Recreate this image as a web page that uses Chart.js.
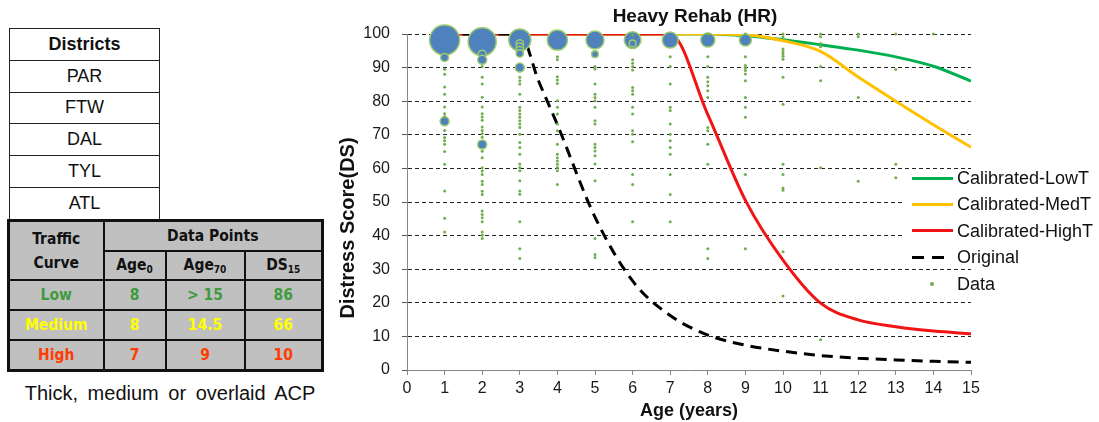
<!DOCTYPE html>
<html lang="en">
<head>
  <meta charset="UTF-8">
  <title>Heavy Rehab (HR)</title>
  <style>
    body {
      margin: 0;
      width: 1099px;
      height: 422px;
      position: relative;
      overflow: hidden;
      background: #fff;
      font-family: "Liberation Sans", Arial, sans-serif;
      color: #111;
    }
    #districts {
      position: absolute;
      left: 9px;
      top: 28px;
      width: 151px;
      border-collapse: collapse;
      font-size: 18px;
    }
    #districts td {
      border: 1px solid #222;
      padding: 0;
      text-align: center;
    }
    #districts tr { height: 31.8px; }
    #traffic {
      position: absolute;
      left: 7px;
      top: 219px;
      width: 317px;
      border-collapse: collapse;
      table-layout: fixed;
      background: #c0c0c0;
      border: 3px solid #111;
      font-family: "DejaVu Sans Condensed", "DejaVu Sans", sans-serif;
      font-stretch: condensed;
      font-weight: bold;
      font-size: 15.5px;
    }
    #traffic th, #traffic td {
      border: 2px solid #111;
      padding: 0;
      text-align: center;
    }
    #traffic sub {
      font-size: 10px;
      line-height: 0;
      vertical-align: -3px;
    }
    #caption {
      position: absolute;
      left: 10px;
      width: 320px;
      top: 382px;
      text-align: center;
      font-size: 20px;
      word-spacing: 4px;
      white-space: nowrap;
    }
    .chart-box {
      position: absolute;
      left: 330px;
      top: 0;
      width: 718px;
      height: 422px;
    }
    .legend-row {
      position: absolute;
      left: 905px;
      width: 194px;
      height: 18px;
      background: #fff;
      font-size: 18px;
      line-height: 18px;
      white-space: nowrap;
    }
    .legend-row .swatch {
      position: absolute;
      left: 7px;
      top: 7.5px;
      width: 41px;
      height: 3px;
    }
    .legend-row .label {
      position: absolute;
      left: 52px;
      top: 0;
    }
  </style>
  <script src="https://cdn.jsdelivr.net/npm/chart.js"></script>
</head>
<body>
  <table id="districts"></table>
  <table id="traffic">
    <colgroup>
      <col style="width:95px"><col style="width:62px"><col style="width:79px"><col style="width:78px">
    </colgroup>
    <tr style="height:30px">
      <th rowspan="2" style="line-height:24px">Traffic<br>Curve</th>
      <th colspan="3">Data Points</th>
    </tr>
    <tr style="height:29.5px">
      <th>Age<sub>0</sub></th><th>Age<sub>70</sub></th><th>DS<sub>15</sub></th>
    </tr>
  </table>
  <div id="caption">Thick, medium or overlaid ACP</div>

  <div class="chart-box">
    <canvas id="chart" width="718" height="422"></canvas>
  </div>
  <div id="legend"></div>

  <script>
    // ---- table contents ----
    const districts = ['PAR', 'FTW', 'DAL', 'TYL', 'ATL'];
    const trafficCurves = ['Low', 'Medium', 'High'];
    const age0Values = ['8', '8', '7'];
    const age70Values = ['> 15', '14.5', '9'];
    const ds15Values = ['86', '66', '10'];
    const trafficColors = ['#3f9b3f', '#ffff00', '#ff3c00'];

    // ---- calibrated / original curves ----
    const curveAges = [1, 2, 3, 4, 5, 6, 7, 8, 9, 10, 11, 12, 13, 14, 15];
    const lowT = [100, 100, 100, 100, 100, 100, 100, 100, 99.5, 98.3, 96.8, 95.2, 93.2, 90.4, 86];
    const medT = [100, 100, 100, 100, 100, 100, 100, 100, 99.8, 98, 94.8, 87.2, 80, 73, 66.3];
    const highT = [100, 100, 100, 100, 100, 100, 100, 76, 50.5, 32.7, 19.9, 14.9, 12.9, 11.6, 10.8];
    const originalAges = [1, 2, 3, 3.5, 4, 5, 6, 7, 8, 9, 10, 11, 12, 13, 14, 15];
    const original = [100, 100, 100, 86, 73, 45.5, 26.5, 16.2, 10.4, 7.4, 5.6, 4.3, 3.5, 3, 2.6, 2.3];

    // ---- observed data: large bubbles (relative count) ----
    const bubbleAges   = [1, 2, 3, 4, 5, 6, 7, 8, 9, 1, 1, 2, 2, 2, 3, 3, 3, 3, 3, 5, 6];
    const bubbleScores = [98.2, 97.7, 98.2, 98.2, 98.2, 98.2, 98.2, 98.2, 98.2, 93, 74, 94, 92.3, 67.1, 97.2, 96.2, 95.2, 94.2, 90, 94, 97.2];
    const bubbleSizes  = [100, 87, 54, 45, 36, 31, 28, 22, 16, 7, 9, 7, 9, 9, 6, 6, 6, 6, 9, 5, 5];

    // ---- observed data: single points per age ----
    const age1Dots = [89.5, 88, 84.2, 82.1, 78.3, 76.3, 75.4, 71.3, 69.2, 68.2, 67.2, 65, 61.2, 53.3, 45.2, 41.1];
    const age2Dots = [90.3, 87.1, 85.1, 81.2, 78.3, 76.3, 75.3, 74.3, 72.3, 71.3, 70.3, 69.3, 65.1, 63.2, 60.2, 59.2, 58.2, 56.2, 55.2, 53.2, 52.2, 47.3, 46.3, 45.3, 44.1, 41.1, 40.1, 39.1];
    const age3Dots = [87.1, 86.1, 85.1, 82.1, 78.2, 77.2, 76.2, 75.2, 74.2, 73.2, 72.2, 70.2, 67.7, 66.2, 64.2, 61.3, 60.3, 59.3, 56.3, 53.3, 52.3, 44.1, 36.1, 33.2];
    const age4Dots = [93.2, 92.3, 87.3, 86.3, 85.3, 80.1, 78.2, 76.2, 73.2, 71.2, 67.2, 64.2, 63.2, 62.2, 61.2, 60.3, 59.3, 55.2];
    const age5Dots = [90.3, 89.6, 85.1, 82.1, 81.1, 80.1, 78.2, 74.2, 73.2, 67.2, 66.2, 65.2, 63.8, 61.3, 56.3, 39.1, 34.4, 33.5];
    const age6Dots = [99.7, 92.3, 91.3, 90.3, 89.3, 84.1, 83.1, 82.1, 78.2, 76.2, 71.2, 70.2, 67.9, 58.2, 55.2, 44.1];
    const age7Dots = [93.2, 90.3, 85.1, 78.2, 77.2, 73.2, 70.2, 68.2, 66.2, 64.2, 58.2, 52.2, 44.1];
    const age8Dots = [99.9, 93.2, 90.3, 87.1, 85.8, 84.6, 83.1, 81.1, 72.2, 71.2, 67.2, 61.2, 36.1, 33.2];
    const age9Dots = [100, 93.2, 90.6, 89.9, 89.1, 88.1, 86.1, 81.1, 78.2, 75.2, 58.2, 36.1];
    const age10Dots = [100, 99.2, 95.5, 94.8, 94.1, 93.4, 92.5, 87.1, 79.1, 61.2, 58.2, 54.2, 53.5, 35.2, 22];
    const age11Dots = [100, 99.2, 97.2, 96.2, 90.3, 86.1, 60.2, 9];
    const age12Dots = [100, 99.2, 81.1, 56.2];
    const age13Dots = [100, 89.4, 61.2, 57.2];
    const age14Dots = [100];
    const dotColumns = [age1Dots, age2Dots, age3Dots, age4Dots, age5Dots, age6Dots, age7Dots,
                        age8Dots, age9Dots, age10Dots, age11Dots, age12Dots, age13Dots, age14Dots];
    const singleSize = 1;

    // ---- build the tables ----
    const dTable = document.getElementById('districts');
    dTable.innerHTML = '<tr><td style="font-weight:bold">Districts</td></tr>' +
      districts.map(d => `<tr><td>${d}</td></tr>`).join('');

    const tTable = document.getElementById('traffic');
    trafficCurves.forEach((name, i) => {
      const row = tTable.insertRow();
      row.style.height = '30px';
      row.style.color = trafficColors[i];
      [name, age0Values[i], age70Values[i], ds15Values[i]].forEach(v => {
        const c = row.insertCell();
        c.textContent = v;
      });
    });

    // ---- chart ----
    Chart.defaults.font.family = '"Liberation Sans", Arial, sans-serif';
    Chart.defaults.color = '#1a1a1a';

    const toRadius = size => 15 * Math.sqrt(size / 100);
    const pairs = (xs, ys) => xs.map((x, i) => ({ x, y: ys[i] }));

    const dataPoints = bubbleAges.map((a, i) => ({ x: a, y: bubbleScores[i], r: toRadius(bubbleSizes[i]) }));
    dotColumns.forEach((col, i) => {
      col.forEach(v => dataPoints.push({ x: i + 1, y: v, r: toRadius(singleSize) }));
    });

    const lineStyle = {
      type: 'line',
      borderWidth: 3,
      pointRadius: 0,
      fill: false,
      cubicInterpolationMode: 'monotone'
    };

    // chart title and y title are placed by hand: in the original neither is
    // centred exactly on the plot area
    const titlesPlugin = {
      id: 'titles',
      afterDraw(chart) {
        const c = chart.ctx;
        c.save();
        c.fillStyle = '#111';
        c.textAlign = 'center';
        c.textBaseline = 'middle';
        c.font = 'bold 19px "Liberation Sans", Arial, sans-serif';
        c.fillText('Heavy Rehab (HR)', 365, 17);
        c.translate(18, 228);
        c.rotate(-Math.PI / 2);
        c.font = 'bold 20px "Liberation Sans", Arial, sans-serif';
        c.fillText('Distress Score(DS)', 0, 0);
        c.restore();
      }
    };

    const chart = new Chart(document.getElementById('chart'), {
      type: 'line',
      data: {
        datasets: [
          {
            type: 'bubble',
            label: 'Data',
            data: dataPoints,
            clip: false,
            backgroundColor: ctx => (ctx.raw && ctx.raw.r > 2 ? '#4f81bd' : '#72ad4e'),
            borderColor: ctx => (ctx.raw && ctx.raw.r > 2 ? '#9bcb6c' : '#72ad4e'),
            borderWidth: ctx => (ctx.raw && ctx.raw.r > 2 ? 1.5 : 0)
          },
          Object.assign({}, lineStyle, {
            label: 'Original', data: pairs(originalAges, original),
            borderColor: '#000', borderDash: [11, 7]
          }),
          Object.assign({}, lineStyle, {
            label: 'Calibrated-HighT', data: pairs(curveAges, highT), borderColor: '#f01414'
          }),
          Object.assign({}, lineStyle, {
            label: 'Calibrated-MedT', data: pairs(curveAges, medT), borderColor: '#ffc000'
          }),
          Object.assign({}, lineStyle, {
            label: 'Calibrated-LowT', data: pairs(curveAges, lowT), borderColor: '#00b050'
          })
        ]
      },
      options: {
        responsive: false,
        animation: false,
        events: [],
        layout: { padding: { right: 77, top: 34 } },
        plugins: {
          legend: { display: false },
          tooltip: { enabled: false },
          title: { display: false }
        },
        scales: {
          x: {
            type: 'linear',
            min: 0,
            max: 15,
            ticks: { stepSize: 1, maxRotation: 0, font: { size: 16 }, padding: 4 },
            grid: { drawOnChartArea: false, drawTicks: true, tickLength: 5, tickColor: '#868686' },
            border: { color: '#868686', width: 1 },
            title: {
              display: true,
              text: 'Age (years)',
              color: '#111',
              font: { size: 18, weight: 'bold' },
              padding: { top: 0, bottom: 0 }
            },
            afterFit: s => { s.height = 52; }
          },
          y: {
            type: 'linear',
            min: 0,
            max: 100,
            ticks: { stepSize: 10, font: { size: 16 }, padding: 12 },
            grid: {
              color: ctx => (ctx.tick && ctx.tick.value === 0 ? 'rgba(0,0,0,0)' : '#222'),
              lineWidth: 1,
              tickLength: 5,
              tickColor: '#555'
            },
            border: { color: '#868686', width: 1, dash: [4, 3] },
            afterFit: s => { s.width = 77; }
          }
        }
      },
      plugins: [titlesPlugin]
    });

    // ---- legend (sits over the right end of the plot) ----
    const legendOrder = ['Calibrated-LowT', 'Calibrated-MedT', 'Calibrated-HighT', 'Original', 'Data'];
    const legend = document.getElementById('legend');
    legendOrder.forEach((name, i) => {
      const ds = chart.data.datasets.find(d => d.label === name);
      const row = document.createElement('div');
      row.className = 'legend-row';
      row.style.top = (169 + i * 26.4) + 'px';
      const sw = document.createElement('div');
      sw.className = 'swatch';
      if (ds.type === 'bubble') {
        sw.style.cssText = 'left:25px;top:7px;width:4px;height:4px;border-radius:50%;background:#72ad4e';
      } else if (ds.borderDash) {
        sw.style.background = 'repeating-linear-gradient(to right,#000 0 12px,transparent 12px 20px)';
        sw.style.width = '32px';
      } else {
        sw.style.background = ds.borderColor;
      }
      const lb = document.createElement('div');
      lb.className = 'label';
      lb.textContent = name;
      row.appendChild(sw);
      row.appendChild(lb);
      legend.appendChild(row);
    });
  </script>
</body>
</html>
